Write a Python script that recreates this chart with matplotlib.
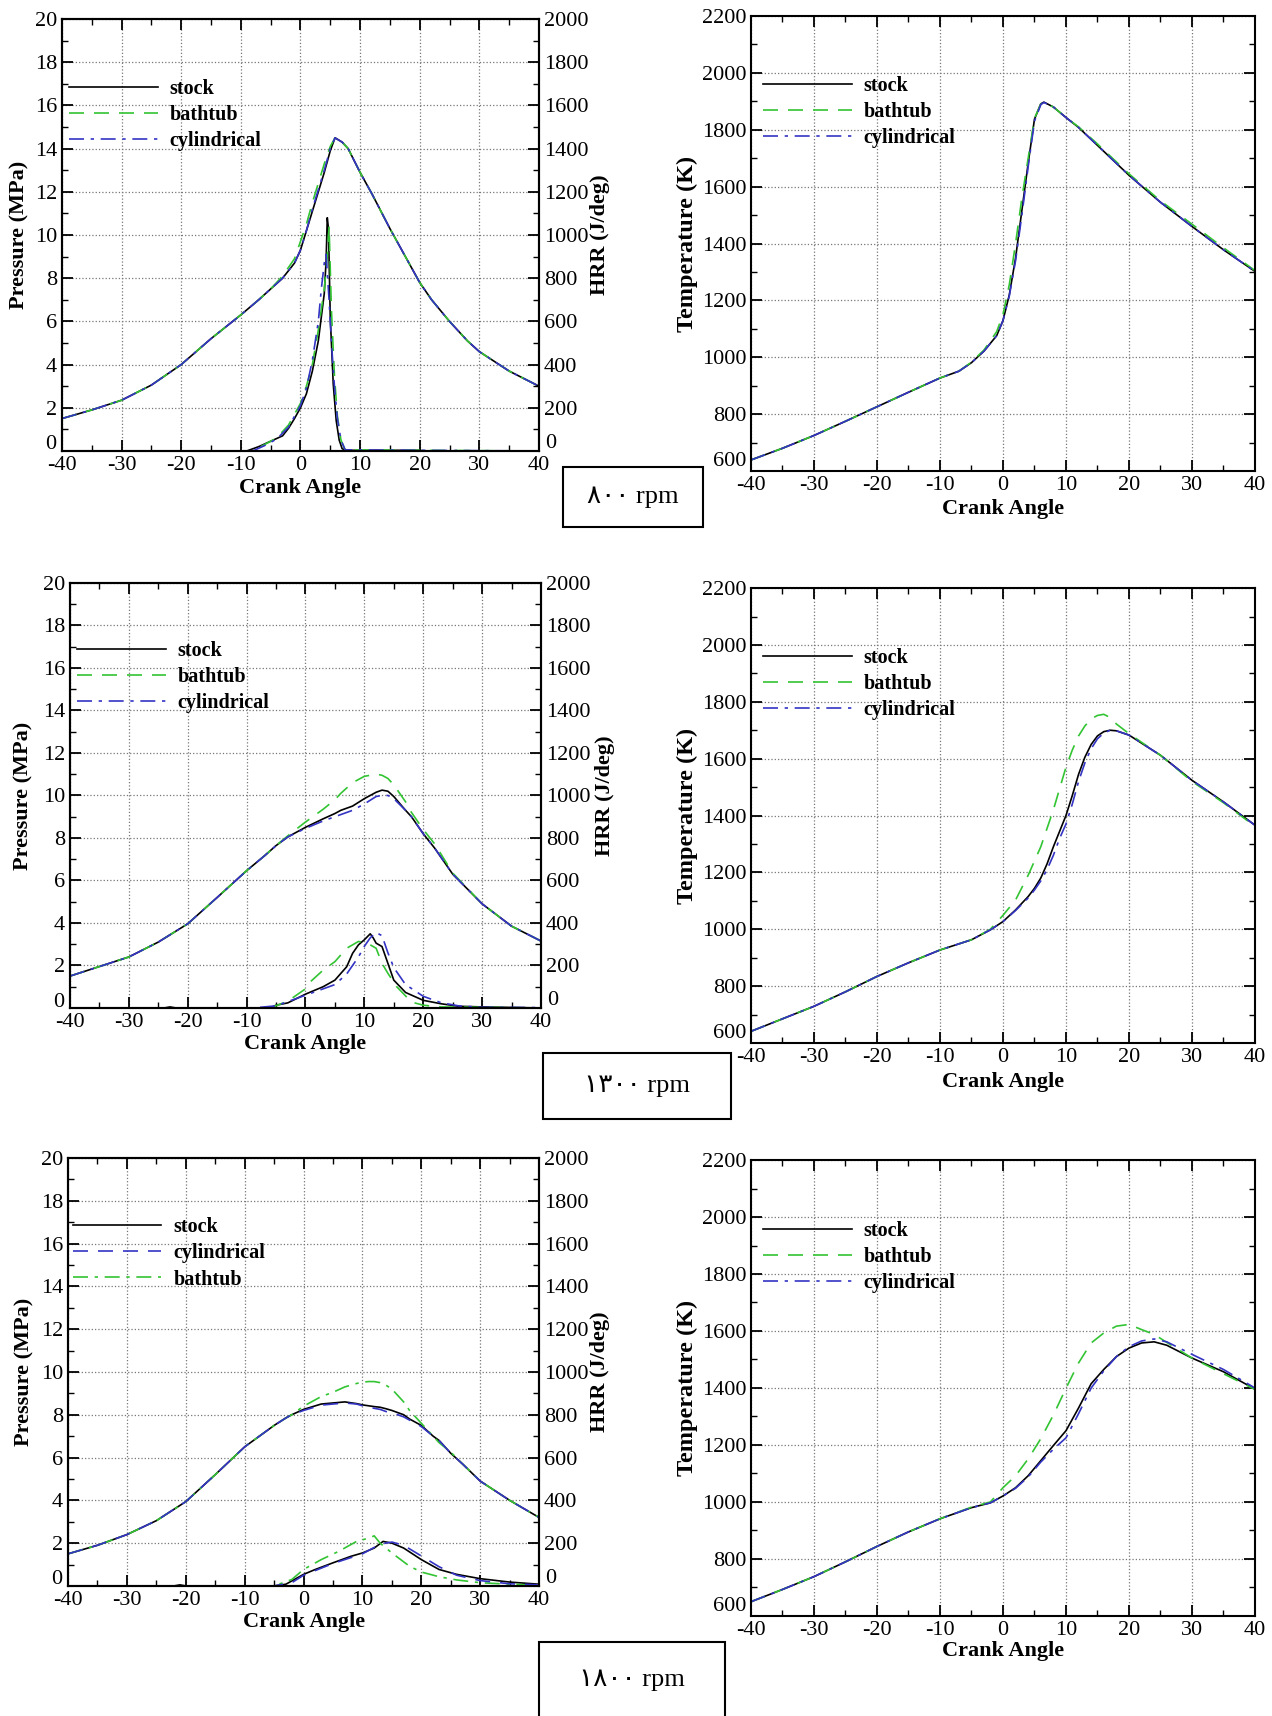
import matplotlib
matplotlib.use("Agg")
import matplotlib.pyplot as plt
from matplotlib.patches import Rectangle
from matplotlib.ticker import MultipleLocator, FuncFormatter

plt.rcParams['font.family'] = ['Liberation Serif', 'DejaVu Sans']
plt.rcParams['axes.unicode_minus'] = False

# === colours / styles ===
GREEN = '#33c433'
BLUE = '#3434c4'
DASH = (0, (9, 6))
DASHDOT = (0, (9, 4, 2, 4))

# ---------------- 800 rpm ----------------
p800_x = [-40, -35, -30, -25, -20, -15, -10, -7, -5, -3, -1, 0, 1, 2, 3, 4, 5, 5.8, 7, 8, 10, 12, 15, 18, 20, 22, 25, 28, 30, 35, 40]
p800_stock = [1.5, 1.9, 2.35, 3.05, 4.0, 5.2, 6.3, 7.0, 7.5, 8.0, 8.7, 9.3, 10.2, 11.1, 12.0, 12.9, 13.9, 14.5, 14.3, 14.0, 12.9, 11.9, 10.3, 8.8, 7.8, 7.0, 6.0, 5.1, 4.6, 3.7, 3.0]
p800_bath = [1.5, 1.9, 2.35, 3.05, 4.0, 5.2, 6.3, 7.0, 7.5, 8.1, 8.9, 9.7, 10.5, 11.5, 12.4, 13.3, 14.1, 14.5, 14.3, 14.0, 12.9, 11.9, 10.3, 8.8, 7.8, 7.0, 6.0, 5.1, 4.6, 3.7, 3.0]
p800_cyl = [1.5, 1.9, 2.35, 3.05, 4.0, 5.2, 6.3, 7.0, 7.5, 8.0, 8.7, 9.3, 10.2, 11.2, 12.1, 13.0, 14.0, 14.5, 14.3, 14.0, 12.9, 11.9, 10.3, 8.8, 7.8, 7.0, 6.0, 5.1, 4.6, 3.7, 3.0]

h800_stock_x = [-40, -9, -7, -5, -3, -2, -1, 0, 1, 2, 3, 3.5, 4, 4.3, 4.5, 4.7, 5, 5.5, 6, 6.5, 7, 8, 20, 21, 40]
h800_stock = [0, 0, 20, 45, 70, 105, 150, 200, 265, 370, 510, 620, 730, 880, 1080, 1030, 620, 310, 140, 50, 10, 3, 3, 0, 0]
h800_bath_x = [-40, -8, -6, -4, -2, 0, 1, 2, 3, 4, 4.5, 4.8, 5.2, 5.7, 6.2, 6.8, 7.5, 20, 40]
h800_bath = [0, 0, 30, 60, 120, 220, 300, 400, 560, 750, 900, 1040, 650, 350, 160, 50, 5, 3, 0]
h800_cyl_x = [-40, -8, -6, -4, -2, 0, 1, 2, 3, 3.5, 4, 4.3, 4.8, 5.2, 5.7, 6.2, 6.8, 7.5, 20, 40]
h800_cyl = [0, 0, 25, 55, 110, 210, 290, 420, 600, 750, 870, 910, 700, 500, 300, 150, 50, 5, 3, 0]

t800_x = [-40, -35, -30, -25, -20, -15, -10, -7, -5, -3, -1, 0, 1, 2, 3, 4, 5, 6, 6.5, 8, 10, 12, 15, 20, 25, 30, 35, 40]
t800_stock = [639, 680, 725, 775, 826, 877, 927, 951, 981, 1022, 1076, 1129, 1219, 1349, 1516, 1682, 1837, 1891, 1897, 1880, 1843, 1808, 1745, 1640, 1545, 1460, 1378, 1302]
t800_bath = [639, 680, 725, 775, 826, 877, 927, 951, 983, 1026, 1090, 1150, 1255, 1400, 1560, 1700, 1840, 1890, 1895, 1880, 1843, 1810, 1750, 1645, 1550, 1468, 1385, 1305]
t800_cyl = [639, 680, 725, 775, 826, 877, 927, 951, 981, 1022, 1076, 1129, 1215, 1340, 1500, 1670, 1830, 1888, 1896, 1880, 1843, 1808, 1745, 1640, 1545, 1460, 1378, 1302]

# ---------------- 1300 rpm ----------------
p1300_x = [-40, -35, -30, -25, -20, -15, -10, -7, -5, -3, 0, 3, 5, 6, 8, 10, 12, 13, 14, 15, 17, 18, 20, 22, 25, 30, 35, 40]
p1300_stock = [1.5, 1.95, 2.4, 3.1, 3.96, 5.2, 6.46, 7.15, 7.64, 8.05, 8.5, 8.9, 9.15, 9.3, 9.5, 9.85, 10.15, 10.25, 10.2, 9.95, 9.3, 9.0, 8.2, 7.5, 6.3, 4.9, 3.85, 3.15]
p1300_bath = [1.5, 1.95, 2.4, 3.1, 3.96, 5.2, 6.46, 7.15, 7.64, 8.1, 8.75, 9.35, 9.8, 10.1, 10.6, 10.9, 11.0, 10.95, 10.8, 10.5, 9.7, 9.2, 8.4, 7.7, 6.35, 4.9, 3.85, 3.15]
p1300_cyl = [1.5, 1.95, 2.4, 3.1, 3.96, 5.2, 6.46, 7.15, 7.64, 8.05, 8.45, 8.8, 9.0, 9.1, 9.3, 9.6, 9.95, 10.0, 10.0, 9.85, 9.3, 9.0, 8.2, 7.5, 6.3, 4.9, 3.85, 3.15]

h1300_stock_x = [-40, -24, -23, -22, -6, -5, -3, 0, 3, 5, 7, 8, 9, 10, 11, 11.5, 12, 13, 14, 15, 17, 20, 23, 26, 30, 40]
h1300_stock = [0, 0, 5, 0, 0, 13, 24, 65, 100, 131, 194, 257, 297, 321, 349, 330, 305, 289, 210, 131, 73, 36, 20, 8, 5, 0]
h1300_bath_x = [-40, -6, -3, 0, 0.5, 3, 5, 7, 9, 10.5, 12, 13, 14, 15.5, 18, 20, 23, 40]
h1300_bath = [0, 0, 32, 90, 115, 178, 218, 281, 313, 305, 281, 210, 163, 100, 28, 13, 5, 0]
h1300_cyl_x = [-40, -9, -5, 0, 5, 7, 9, 10, 11, 12, 13, 14, 15, 17, 20, 23, 26, 30, 40]
h1300_cyl = [0, 0, 10, 60, 110, 160, 240, 290, 330, 355, 340, 260, 190, 110, 55, 25, 10, 3, 2]

t1300_x = [-40, -35, -30, -25, -20, -15, -10, -5, -2, 0, 2, 4, 5, 6, 7, 8, 9, 10, 11, 12, 13, 14, 15, 16, 17, 18, 20, 25, 30, 35, 40]
t1300_stock = [641, 685, 729, 780, 834, 882, 927, 963, 998, 1027, 1068, 1115, 1144, 1180, 1230, 1290, 1345, 1400, 1470, 1545, 1605, 1650, 1680, 1695, 1700, 1698, 1683, 1612, 1524, 1448, 1366]
t1300_bath = [641, 685, 729, 780, 834, 882, 927, 963, 1000, 1049, 1103, 1190, 1240, 1290, 1355, 1420, 1495, 1570, 1630, 1680, 1715, 1740, 1752, 1756, 1745, 1722, 1688, 1612, 1520, 1445, 1362]
t1300_cyl = [641, 685, 729, 780, 834, 882, 927, 963, 998, 1027, 1066, 1110, 1138, 1170, 1210, 1260, 1320, 1370, 1440, 1520, 1585, 1635, 1670, 1690, 1700, 1698, 1683, 1612, 1524, 1448, 1366]

# ---------------- 1800 rpm ----------------
p1800_x = [-40, -35, -30, -25, -20, -15, -10, -7, -5, -3, -2, 0, 3, 5, 7, 9, 10, 11, 12, 13, 14, 15, 16, 17, 18, 20, 22, 23, 25, 27, 30, 35, 40]
p1800_stock = [1.5, 1.9, 2.4, 3.05, 3.94, 5.2, 6.5, 7.1, 7.5, 7.85, 8.0, 8.25, 8.5, 8.55, 8.6, 8.52, 8.46, 8.42, 8.38, 8.35, 8.28, 8.2, 8.1, 8.0, 7.8, 7.5, 7.0, 6.8, 6.2, 5.7, 4.9, 4.0, 3.2]
p1800_bath = [1.5, 1.9, 2.4, 3.05, 3.94, 5.2, 6.5, 7.1, 7.5, 7.85, 8.0, 8.4, 8.85, 9.05, 9.3, 9.46, 9.52, 9.55, 9.55, 9.5, 9.38, 9.2, 8.9, 8.6, 8.2, 7.6, 7.0, 6.7, 6.25, 5.7, 4.9, 4.0, 3.2]
p1800_cyl = [1.5, 1.9, 2.4, 3.05, 3.94, 5.2, 6.5, 7.1, 7.5, 7.85, 8.0, 8.2, 8.45, 8.5, 8.55, 8.5, 8.42, 8.35, 8.3, 8.25, 8.15, 8.1, 8.0, 7.9, 7.75, 7.45, 7.0, 6.8, 6.2, 5.7, 4.9, 4.0, 3.2]

h1800_stock_x = [-40, -22, -21, -20, -5, -3, 0, 2, 5, 8, 10, 12, 13.5, 15, 17, 20, 23, 26, 30, 35, 40]
h1800_stock = [0, 0, 5, 0, 0, 8, 54, 77, 108, 138, 154, 177, 208, 200, 177, 123, 77, 54, 34, 18, 8]
h1800_bath_x = [-40, -5, -2, 0, 3, 6, 9, 11, 12, 13, 15, 18, 20, 23, 26, 30, 35, 40]
h1800_bath = [0, 0, 30, 77, 123, 162, 208, 223, 234, 200, 154, 92, 65, 43, 28, 15, 8, 3]
h1800_cyl_x = [-40, -5, -2, 0, 5, 10, 13, 15, 17, 20, 23, 26, 30, 35, 40]
h1800_cyl = [0, 0, 15, 50, 105, 150, 195, 205, 190, 140, 90, 50, 25, 10, 5]

t1800_x = [-40, -35, -30, -25, -20, -15, -10, -5, -2, 0, 2, 4, 6, 8, 10, 12, 14, 16, 18, 20, 22, 24, 26, 30, 35, 40]
t1800_stock = [650, 693, 738, 790, 844, 895, 941, 980, 997, 1021, 1050, 1092, 1145, 1198, 1250, 1330, 1415, 1465, 1510, 1540, 1558, 1562, 1550, 1505, 1457, 1396]
t1800_bath = [650, 693, 738, 790, 844, 895, 941, 982, 1000, 1050, 1092, 1151, 1222, 1305, 1399, 1488, 1558, 1593, 1617, 1623, 1605, 1588, 1560, 1505, 1450, 1395]
t1800_cyl = [650, 693, 738, 790, 844, 895, 941, 980, 997, 1021, 1048, 1088, 1140, 1185, 1225, 1310, 1400, 1460, 1510, 1545, 1565, 1572, 1562, 1518, 1465, 1400]

rpm_labels = ['\u0668\u0660\u0660 rpm', '\u0661\u0663\u0660\u0660 rpm', '\u0661\u0668\u0660\u0660 rpm']

TICK = 16
LEG = dict(frameon=False, prop={'weight': 'bold', 'size': 14.5}, handlelength=4.4,
           handletextpad=0.6, labelspacing=0.3, borderpad=0, borderaxespad=0, loc='upper left')


def skip_low(lo):
    # bottom label is drawn by hand, raised a little (Tecplot style)
    return FuncFormatter(lambda v, p: '' if abs(v - lo) < 1e-9 else '%g' % v)


def style(ax, ymaj, ymin, right_ticks=True):
    ax.set_xlim(-40, 40)
    ax.xaxis.set_major_locator(MultipleLocator(10))
    ax.xaxis.set_minor_locator(MultipleLocator(5))
    ax.yaxis.set_major_locator(MultipleLocator(ymaj))
    ax.yaxis.set_minor_locator(MultipleLocator(ymin))
    ax.tick_params(which='both', direction='in', top=True, right=right_ticks, labelsize=TICK)
    ax.tick_params(which='major', length=8, width=1.3)
    ax.tick_params(which='minor', length=4, width=1)
    ax.grid(True, which='major', linestyle=':', color='#777777', lw=0.9)
    for s in ax.spines.values():
        s.set_linewidth(1.5)


def pressure_panel(rect, px, ps, pb, pc, hsx, hs, hbx, hb, hcx, hc,
                   leg_xy, ylab_x, hlab_x, xlab_y, swap=False):
    ax = fig.add_axes(rect)
    style(ax, 2, 1, right_ticks=False)
    ax.set_ylim(0, 20)
    ax.yaxis.set_major_formatter(skip_low(0))
    ax.text(-0.012, 0.014, '0', transform=ax.transAxes, ha='right', va='center', fontsize=TICK)
    ax2 = ax.twinx()
    ax2.set_ylim(0, 2000)
    ax2.yaxis.set_major_locator(MultipleLocator(200))
    ax2.yaxis.set_minor_locator(MultipleLocator(100))
    ax2.yaxis.set_major_formatter(skip_low(0))
    ax2.tick_params(which='both', direction='in', labelsize=TICK)
    ax2.tick_params(which='major', length=8, width=1.3)
    ax2.tick_params(which='minor', length=4, width=1)
    ax2.text(1.012, 0.018, '0', transform=ax2.transAxes, ha='left', va='center', fontsize=TICK)
    for s in ax2.spines.values():
        s.set_linewidth(1.5)

    bstyle, cstyle = (DASHDOT, DASH) if swap else (DASH, DASHDOT)
    ls, = ax.plot(px, ps, color='black', lw=1.2, label='stock')
    lb, = ax.plot(px, pb, color=GREEN, lw=1.2, ls=bstyle, label='bathtub')
    lc, = ax.plot(px, pc, color=BLUE, lw=1.2, ls=cstyle, label='cylindrical')
    ax2.plot(hsx, hs, color='black', lw=1.2)
    ax2.plot(hbx, hb, color=GREEN, lw=1.2, ls=bstyle)
    ax2.plot(hcx, hc, color=BLUE, lw=1.2, ls=cstyle)

    handles = [ls, lc, lb] if swap else [ls, lb, lc]
    ax2.legend(handles=handles, bbox_to_anchor=leg_xy, **LEG)
    ax.text(0.5, xlab_y, 'Crank Angle', transform=ax.transAxes, ha='center', va='center',
            fontsize=16, fontweight='bold')
    ax.text(ylab_x, 0.5, 'Pressure (MPa)', transform=ax.transAxes, ha='center', va='center',
            rotation=90, fontsize=16, fontweight='bold')
    ax.text(hlab_x, 0.5, 'HRR (J/deg)', transform=ax.transAxes, ha='center', va='center',
            rotation=90, fontsize=16, fontweight='bold')


def temp_panel(rect, tx, ts, tb, tc, leg_xy, xlab_y):
    ax = fig.add_axes(rect)
    style(ax, 200, 100)
    ax.set_ylim(600, 2200)
    ax.yaxis.set_major_formatter(skip_low(600))
    ax.text(-0.01, 0.02, '600', transform=ax.transAxes, ha='right', va='center', fontsize=TICK)
    ax.plot(tx, ts, color='black', lw=1.2, label='stock')
    ax.plot(tx, tb, color=GREEN, lw=1.2, ls=DASH, label='bathtub')
    ax.plot(tx, tc, color=BLUE, lw=1.2, ls=DASHDOT, label='cylindrical')
    ax.legend(bbox_to_anchor=leg_xy, **LEG)
    ax.text(0.5, xlab_y, 'Crank Angle', transform=ax.transAxes, ha='center', va='center',
            fontsize=16, fontweight='bold')
    ax.text(-0.127, 0.5, 'Temperature (K)', transform=ax.transAxes, ha='center', va='center',
            rotation=90, fontsize=17.5, fontweight='bold')


def rpm_box(x0, y0, w, h, tx, ty, label):
    fig.add_artist(Rectangle((x0, y0), w, h, transform=fig.transFigure,
                             fill=False, ec='black', lw=1.5))
    fig.text(tx, ty, label, ha='center', va='center', fontsize=19)


fig = plt.figure(figsize=(12.72, 17.16), dpi=100)

# row 1
pressure_panel([0.0487, 0.7372, 0.375, 0.2517], p800_x, p800_stock, p800_bath, p800_cyl,
               h800_stock_x, h800_stock, h800_bath_x, h800_bath, h800_cyl_x, h800_cyl,
               (0.015, 0.862), -0.088, 1.128, -0.086)
temp_panel([0.5904, 0.7255, 0.3962, 0.2652], t800_x, t800_stock, t800_bath, t800_cyl,
           (0.024, 0.869), -0.083)
rpm_box(0.4426, 0.6929, 0.110, 0.035, 0.4976, 0.7104, rpm_labels[0])

# row 2
pressure_panel([0.0550, 0.4126, 0.3703, 0.2477], p1300_x, p1300_stock, p1300_bath, p1300_cyl,
               h1300_stock_x, h1300_stock, h1300_bath_x, h1300_bath, h1300_cyl_x, h1300_cyl,
               (0.015, 0.864), -0.098, 1.136, -0.085)
temp_panel([0.5904, 0.3922, 0.3962, 0.2651], t1300_x, t1300_stock, t1300_bath, t1300_cyl,
           (0.024, 0.868), -0.086)
rpm_box(0.4269, 0.3479, 0.1478, 0.0385, 0.5008, 0.3671, rpm_labels[1])

# row 3
pressure_panel([0.0535, 0.0758, 0.3703, 0.2494], p1800_x, p1800_stock, p1800_bath, p1800_cyl,
               h1800_stock_x, h1800_stock, h1800_bath_x, h1800_bath, h1800_cyl_x, h1800_cyl,
               (0.010, 0.861), -0.093, 1.13, -0.084, swap=True)
temp_panel([0.5904, 0.0583, 0.3962, 0.2657], t1800_x, t1800_stock, t1800_bath, t1800_cyl,
           (0.024, 0.867), -0.077)
rpm_box(0.4237, -0.01, 0.1462, 0.0531, 0.497, 0.021, rpm_labels[2])

fig.savefig('out.png', dpi=100)
